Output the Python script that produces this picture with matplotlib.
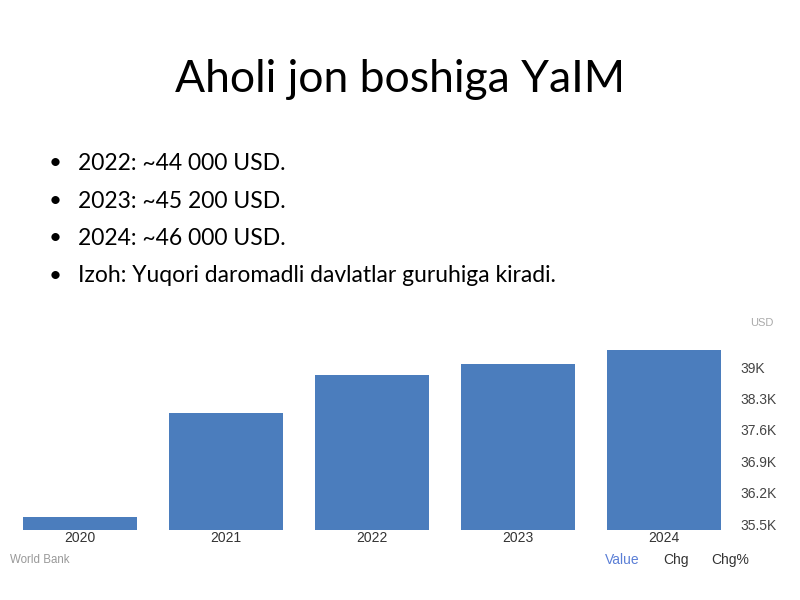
import matplotlib.pyplot as plt

# Slide text
title = "Aholi jon boshiga YaIM"
bullets = [
    "2022: ~44 000 USD.",
    "2023: ~45 200 USD.",
    "2024: ~46 000 USD.",
    "Izoh: Yuqori daromadli davlatlar guruhiga kiradi.",
]

# Chart data (USD)
years = ["2020", "2021", "2022", "2023", "2024"]
values = [35650, 37970, 38820, 39060, 39380]
ytick_vals = [35500, 36200, 36900, 37600, 38300, 39000]
ytick_labels = ["35.5K", "36.2K", "36.9K", "37.6K", "38.3K", "39K"]

fig = plt.figure(figsize=(8, 6), dpi=100)

# Title and bullet list
fig.text(0.5, 0.868, title, ha="center", va="center",
         fontsize=32, family="Lato", color="black")
bullet_y = [0.728, 0.665, 0.603, 0.54]
for y, txt in zip(bullet_y, bullets):
    fig.text(0.069, y, "\u2022", ha="center", va="center", fontsize=16, family="Lato")
    fig.text(0.097, y, txt, ha="left", va="center", fontsize=16.5, family="Lato")

# Bar chart
ax = fig.add_axes([0.0125, 0.1167, 0.89, 0.317])
x = range(len(years))
ax.bar(x, values, width=0.78, color="#4b7dbd", zorder=2)
ax.set_ylim(35370, 39610)
ax.set_xlim(-0.48, 4.4)
ax.set_xticks(list(x))
ax.set_xticklabels(years, fontsize=10, color="#333333", family="Liberation Sans")
ax.yaxis.tick_right()
ax.set_yticks(ytick_vals)
ax.set_yticklabels(ytick_labels, fontsize=10, color="#444444", family="Liberation Sans")
ax.tick_params(axis="x", length=0, pad=1)
ax.tick_params(axis="y", length=0, pad=13)
for s in ax.spines.values():
    s.set_visible(False)

# Chart annotations
fig.text(0.952, 0.462, "USD", ha="center", va="center", fontsize=8, color="#aaaaaa",
         family="Liberation Sans")
fig.text(0.012, 0.066, "World Bank", ha="left", va="center", fontsize=8.3, color="#999999",
         family="Liberation Sans")
fig.text(0.778, 0.066, "Value", ha="center", va="center", fontsize=10, color="#5b7fd6",
         family="Liberation Sans")
fig.text(0.845, 0.066, "Chg", ha="center", va="center", fontsize=10, color="#333333",
         family="Liberation Sans")
fig.text(0.913, 0.066, "Chg%", ha="center", va="center", fontsize=10, color="#333333",
         family="Liberation Sans")

fig.savefig("out.png", dpi=100)
